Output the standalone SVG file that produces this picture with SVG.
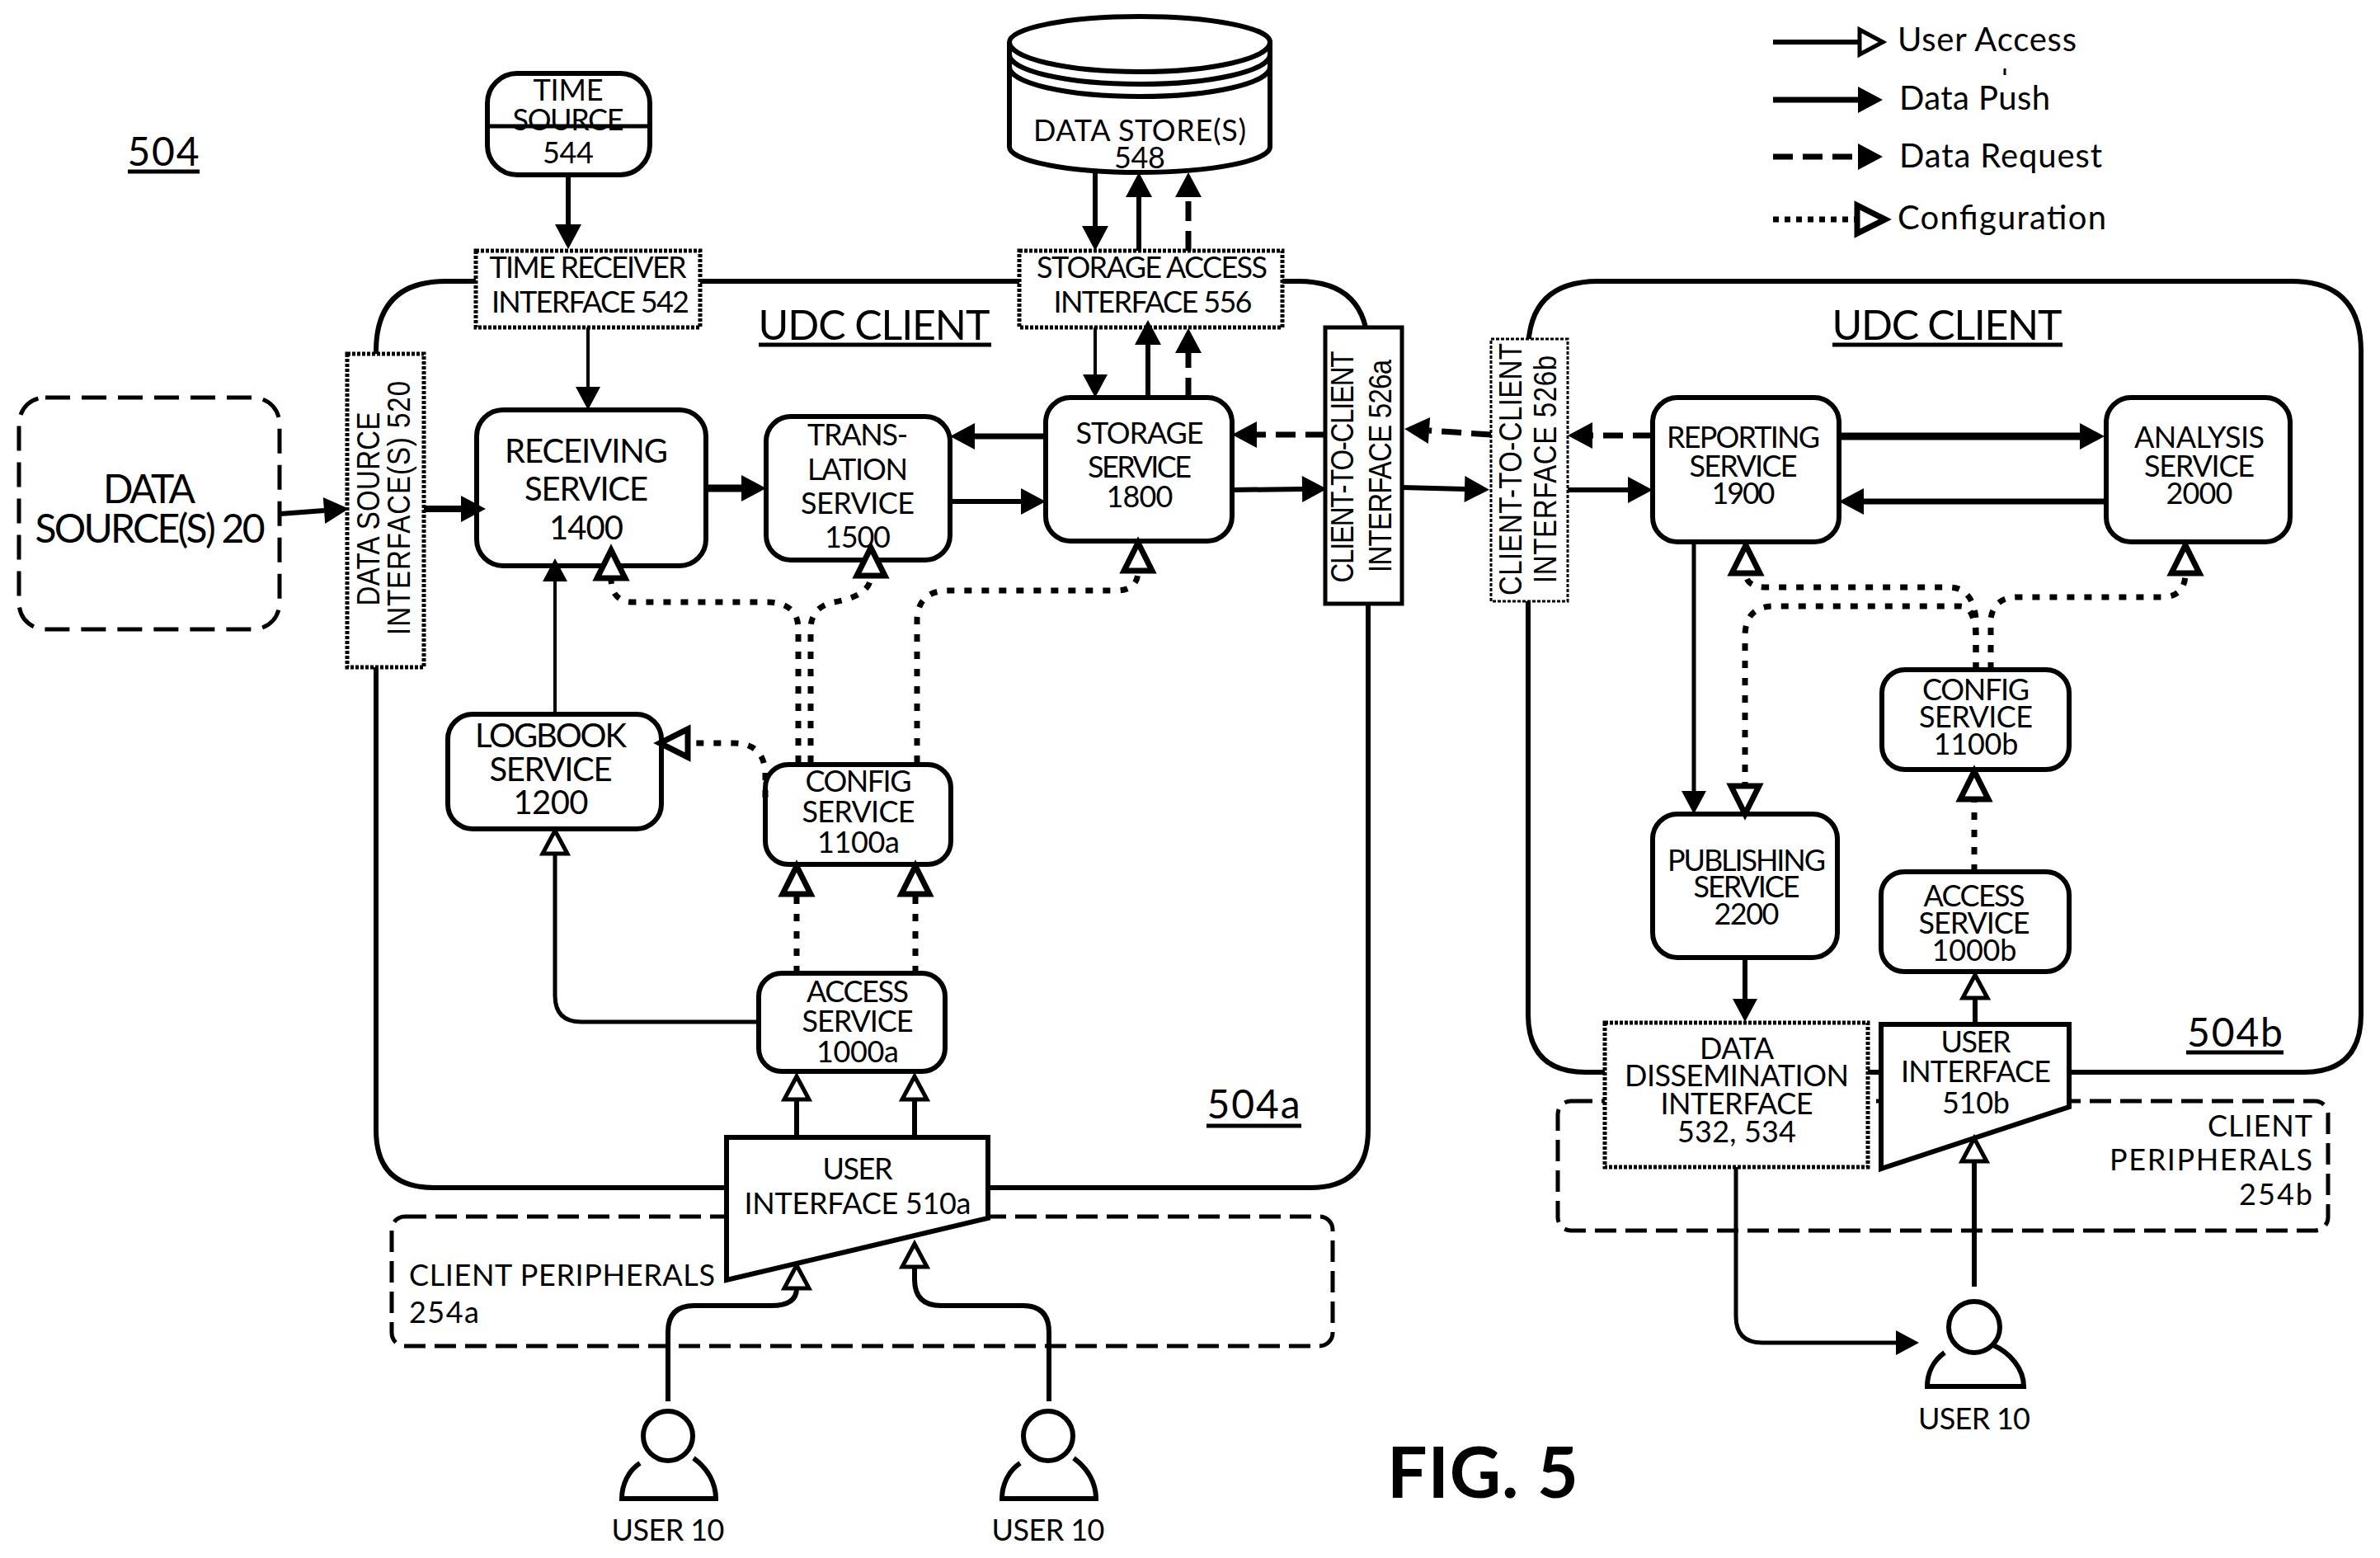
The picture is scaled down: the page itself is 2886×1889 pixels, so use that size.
<svg xmlns="http://www.w3.org/2000/svg" width="2886" height="1889" viewBox="0 0 2886 1889">
<style>
text{font-family:"Lato","Open Sans","Liberation Sans",sans-serif;fill:#000;text-anchor:middle}
.s{font-size:36px}.m{font-size:40px}.l{font-size:48px}.xl{font-size:50px}.st{text-anchor:start}.en{text-anchor:end}
.w{font-family:"Liberation Sans",sans-serif;font-size:33px}
.fig{font-size:86px;font-weight:700}
.box{fill:#fff;stroke:#000;stroke-width:6}
.cont{fill:#fff;stroke:#000;stroke-width:6}
.dash{fill:none;stroke:#000;stroke-width:5;stroke-dasharray:26 11}
.dot{fill:#fff;stroke:#000;stroke-width:5;stroke-dasharray:4 2}
.u{stroke:#000;stroke-width:5}
.c{fill:none;stroke:#000;stroke-width:6}
.thin{stroke-width:4}.thick{stroke-width:9}.t7{stroke-width:7}
.dreq{stroke-width:7;stroke-dasharray:24 12}
.cfg{stroke-width:7;stroke-dasharray:9 12}
.as{marker-end:url(#solid)}.asm{marker-end:url(#small)}.ah{marker-end:url(#hollow)}.ab{marker-end:url(#hollowB)}
</style>
<defs>
<marker id="solid" markerUnits="userSpaceOnUse" viewBox="-2 -20 40 40" markerWidth="40" markerHeight="40" refX="0" refY="0" orient="auto"><path d="M0 -16L30 0L0 16Z" fill="#000"/></marker>
<marker id="small" markerUnits="userSpaceOnUse" viewBox="-2 -20 40 40" markerWidth="40" markerHeight="40" refX="0" refY="0" orient="auto"><path d="M0 -15L28 0L0 15Z" fill="#000"/></marker>
<marker id="hollow" markerUnits="userSpaceOnUse" viewBox="-6 -24 50 48" markerWidth="50" markerHeight="48" refX="0" refY="0" orient="auto"><path d="M0 -15L28 0L0 15Z" fill="#fff" stroke="#000" stroke-width="5"/></marker>
<marker id="hollowB" markerUnits="userSpaceOnUse" viewBox="-6 -26 54 52" markerWidth="54" markerHeight="52" refX="0" refY="0" orient="auto"><path d="M0 -17L34 0L0 17Z" fill="#fff" stroke="#000" stroke-width="7"/></marker>
</defs>
<rect width="2886" height="1889" fill="#fff"/>

<g id="label-504"><text class="l" x="198" y="201" textLength="87">504</text><line class="u" x1="155" y1="208" x2="242" y2="208"/></g>

<g id="client-peripherals-a"><rect class="dash" x="475" y="1475" width="1141" height="157" rx="16"/>
<text class="s st" x="496" y="1559" textLength="371">CLIENT PERIPHERALS</text><text class="s st" x="496" y="1604" textLength="85">254a</text></g>
<g id="client-peripherals-b"><rect class="dash" x="1889" y="1335" width="934" height="157" rx="16"/>
<text class="s en" x="2804" y="1378" textLength="127">CLIENT</text><text class="s en" x="2804" y="1419" textLength="246">PERIPHERALS</text><text class="s en" x="2804" y="1461" textLength="89">254b</text></g>

<g id="udc-client-a"><path class="cont" d="M456 1370V426Q456 341 541 341H1574Q1659 341 1659 426V1370Q1659 1440 1589 1440H526Q456 1440 456 1370Z"/>
<text class="xl" x="1060" y="412" textLength="281">UDC CLIENT</text><line class="u" x1="920" y1="418" x2="1202" y2="418"/>
<text class="l" x="1520" y="1356" textLength="113">504a</text><line class="u" x1="1463" y1="1365" x2="1578" y2="1365"/></g>
<g id="udc-client-b"><path class="cont" d="M1853 1230V426Q1853 341 1938 341H2778Q2863 341 2863 426V1230Q2863 1300 2793 1300H1923Q1853 1300 1853 1230Z"/>
<text class="xl" x="2361" y="412" textLength="279">UDC CLIENT</text><line class="u" x1="2222" y1="418" x2="2501" y2="418"/>
<text class="l" x="2710" y="1269" textLength="116">504b</text><line class="u" x1="2651" y1="1276" x2="2769" y2="1276"/></g>

<g id="time-source"><rect class="box" x="591" y="89" width="197" height="123" rx="36"/><text class="s" x="689" y="122" textLength="85">TIME</text><text class="s" x="689" y="158" textLength="135">SOURCE</text><line class="u" x1="591" y1="153" x2="788" y2="153"/><text class="s" x="689" y="198" textLength="62">544</text></g>
<g id="data-store"><path class="box" d="M1224 51A158 31 0 0 1 1540 51V178A158 31 0 0 1 1224 178Z"/><path class="c" d="M1224 51A158 36 0 0 0 1540 51M1224 66A158 36 0 0 0 1540 66M1224 81A158 36 0 0 0 1540 81"/>
<text class="s" x="1382" y="171" textLength="258">DATA STORE(S)</text><text class="s" x="1382" y="204" textLength="62">548</text></g>
<g id="time-receiver-interface"><rect class="dot" x="577" y="304" width="272" height="93"/><text class="s" x="713" y="337" textLength="239">TIME RECEIVER</text><text class="s" x="716" y="379" textLength="240">INTERFACE 542</text></g>
<g id="storage-access-interface"><rect class="dot" x="1236" y="304" width="319" height="93"/><text class="s" x="1397" y="337" textLength="280">STORAGE ACCESS</text><text class="s" x="1398" y="379" textLength="241">INTERFACE 556</text></g>
<g id="data-sources"><rect class="dash" x="23" y="482" width="316" height="281" rx="32" style="stroke-dasharray:30 14"/><text class="l" x="181" y="610" textLength="112">DATA</text><text class="l" x="182" y="658" textLength="279">SOURCE(S) 20</text></g>
<g id="data-source-interface"><rect class="dot" x="421" y="429" width="93" height="380"/><text class="w" transform="translate(460 617) rotate(-90) scale(1 1.15)" textLength="235">DATA SOURCE</text><text class="w" transform="translate(497 616) rotate(-90) scale(1 1.15)" textLength="308">INTERFACE(S)  520</text></g>
<g id="receiving-service"><rect class="box" x="578" y="497" width="278" height="189" rx="32"/><text class="m" x="711" y="561" textLength="198">RECEIVING</text><text class="m" x="711" y="607" textLength="150">SERVICE</text><text class="m" x="711" y="654" textLength="90">1400</text></g>
<g id="translation-service"><rect class="box" x="929" y="505" width="223" height="174" rx="30"/><text class="s" x="1040" y="540" textLength="122">TRANS-</text><text class="s" x="1040" y="582" textLength="122">LATION</text><text class="s" x="1040" y="623" textLength="138">SERVICE</text><text class="s" x="1040" y="664" textLength="80">1500</text></g>
<g id="storage-service"><rect class="box" x="1268" y="482" width="226" height="174" rx="30"/><text class="s" x="1382" y="538" textLength="155">STORAGE</text><text class="s" x="1382" y="579" textLength="126">SERVICE</text><text class="s" x="1382" y="615" textLength="81">1800</text></g>
<g id="client-interface-a"><rect class="dot" x="1607" y="397" width="93" height="335" style="stroke-dasharray:none"/><text class="w" transform="translate(1641 566) rotate(-90) scale(1 1.15)" textLength="281">CLIENT-TO-CLIENT</text><text class="w" transform="translate(1687 565) rotate(-90) scale(1 1.15)" textLength="258">INTERFACE 526a</text></g>
<g id="client-interface-b"><rect class="dot" x="1808" y="411" width="93" height="318" style="stroke-width:3"/><text class="w" transform="translate(1845 569) rotate(-90) scale(1 1.15)" textLength="306">CLIENT-TO-CLIENT</text><text class="w" transform="translate(1887 569) rotate(-90) scale(1 1.15)" textLength="276">INTERFACE 526b</text></g>
<g id="reporting-service"><rect class="box" x="2004" y="482" width="226" height="175" rx="30"/><text class="s" x="2114" y="543" textLength="186">REPORTING</text><text class="s" x="2114" y="578" textLength="131">SERVICE</text><text class="s" x="2114" y="611" textLength="77">1900</text></g>
<g id="analysis-service"><rect class="box" x="2554" y="482" width="223" height="175" rx="30"/><text class="s" x="2667" y="543" textLength="158">ANALYSIS</text><text class="s" x="2667" y="578" textLength="134">SERVICE</text><text class="s" x="2667" y="611" textLength="81">2000</text></g>
<g id="logbook-service"><rect class="box" x="543" y="866" width="259" height="139" rx="30"/><text class="m" x="668" y="906" textLength="184">LOGBOOK</text><text class="m" x="668" y="947" textLength="149">SERVICE</text><text class="m" x="668" y="987" textLength="91">1200</text></g>
<g id="config-service-a"><rect class="box" x="928" y="927" width="225" height="121" rx="28"/><text class="s" x="1041" y="960" textLength="129">CONFIG</text><text class="s" x="1041" y="997" textLength="137">SERVICE</text><text class="s" x="1041" y="1034" textLength="100">1100a</text></g>
<g id="access-service-a"><rect class="box" x="920" y="1180" width="226" height="119" rx="28"/><text class="s" x="1040" y="1215" textLength="124">ACCESS</text><text class="s" x="1040" y="1251" textLength="135">SERVICE</text><text class="s" x="1040" y="1288" textLength="100">1000a</text></g>
<g id="user-interface-a"><path class="box" d="M881 1379H1198V1477L881 1552Z"/><text class="s" x="1040" y="1430" textLength="85">USER</text><text class="s" x="1040" y="1472" textLength="275">INTERFACE 510a</text></g>
<g id="config-service-b"><rect class="box" x="2282" y="812" width="227" height="121" rx="28"/><text class="s" x="2396" y="849" textLength="130">CONFIG</text><text class="s" x="2396" y="882" textLength="138">SERVICE</text><text class="s" x="2396" y="915" textLength="103">1100b</text></g>
<g id="access-service-b"><rect class="box" x="2281" y="1057" width="228" height="121" rx="28"/><text class="s" x="2394" y="1099" textLength="123">ACCESS</text><text class="s" x="2394" y="1132" textLength="135">SERVICE</text><text class="s" x="2394" y="1165" textLength="103">1000b</text></g>
<g id="publishing-service"><rect class="box" x="2004" y="987" width="224" height="174" rx="30"/><text class="s" x="2118" y="1056" textLength="192">PUBLISHING</text><text class="s" x="2118" y="1088" textLength="129">SERVICE</text><text class="s" x="2118" y="1121" textLength="79">2200</text></g>
<g id="data-dissemination-interface"><rect class="dot" x="1946" y="1240" width="319" height="175"/><text class="s" x="2106" y="1284" textLength="90">DATA</text><text class="s" x="2106" y="1317" textLength="272">DISSEMINATION</text><text class="s" x="2106" y="1351" textLength="185">INTERFACE</text><text class="s" x="2106" y="1385" textLength="144">532, 534</text></g>
<g id="user-interface-b"><path class="box" d="M2281 1242H2509V1342L2281 1417Z"/><text class="s" x="2396" y="1276" textLength="85">USER</text><text class="s" x="2396" y="1312" textLength="182">INTERFACE</text><text class="s" x="2396" y="1350" textLength="82">510b</text></g>

<g id="user-1"><circle class="c" cx="810" cy="1741" r="30"/><path class="c" d="M776 1774C762 1783 754 1800 754 1817H868C868 1798 858 1780 841 1768"/><text class="s" x="810" y="1868" textLength="137">USER 10</text></g>
<g id="user-2"><circle class="c" cx="1271" cy="1741" r="30"/><path class="c" d="M1237 1774C1223 1783 1215 1800 1215 1817H1329C1329 1798 1319 1780 1302 1768"/><text class="s" x="1271" y="1868" textLength="137">USER 10</text></g>
<g id="user-3"><circle class="c" cx="2394" cy="1609" r="31"/><path class="c" d="M2358 1640C2344 1650 2337 1665 2337 1681H2454C2454 1660 2438 1640 2415 1630"/><text class="s" x="2394" y="1733" textLength="136">USER 10</text></g>

<g id="connectors">
<path class="c as" d="M689 212V272"/>
<path class="c thin asm" d="M713 397V469"/>
<path class="c as" d="M340 623L393 619"/>
<path class="c as" style="stroke-width:8" d="M514 617H559"/>
<path class="c thick as" d="M856 592H899"/>
<path class="c t7 as" d="M1268 529H1182"/>
<path class="c as" d="M1152 608H1238"/>
<path class="c as" d="M1328 209V274"/>
<path class="c as" d="M1381 304V239"/>
<path class="c dreq as" d="M1441 304V239"/>
<path class="c thin asm" d="M1328 397V454"/>
<path class="c as" d="M1392 482V418"/>
<path class="c dreq as" d="M1441 482V428"/>
<path class="c dreq as" d="M1607 527H1524"/>
<path class="c as" d="M1494 594L1579 593"/>
<path class="c as" d="M1700 591L1776 593"/>
<path class="c dreq as" d="M1808 527L1733 522"/>
<path class="c dreq as" d="M2004 528H1931"/>
<path class="c as" d="M1901 594H1974"/>
<path class="c thick as" d="M2230 529H2522"/>
<path class="c t7 as" d="M2554 608H2260"/>
<path class="c asm" style="stroke-width:5" d="M2054 657V959"/>
<path class="c asm" d="M2116 1161V1211"/>
<path class="c asm" style="stroke-width:5" d="M2105 1415V1596Q2105 1628 2137 1628H2299"/>
<path class="c thin asm" d="M673 866V705"/>

<path class="c ah" style="stroke-width:5" d="M920 1239H705Q673 1239 673 1207V1035"/>
<path class="c ah" d="M966 1379V1333"/>
<path class="c ah" d="M1109 1379V1333"/>
<path class="c ah" d="M810 1699V1615Q810 1583 842 1583H935Q966 1583 966 1562"/>
<path class="c ah" d="M1272 1699V1615Q1272 1583 1240 1583H1141Q1109 1583 1109 1551V1536"/>
<path class="c ah" d="M2395 1242V1210"/>
<path class="c ah" d="M2394 1560V1408"/>

<path class="c cfg ab" d="M966 1180V1084"/>
<path class="c cfg ab" d="M1110 1180V1084"/>
<path class="c cfg ab" d="M2394 1057V969"/>
<path class="c cfg ab" d="M968 925V760Q966 730 929 730H768Q741 730 741 701"/>
<path class="c cfg ab" d="M983 925V760Q985 735 1012 730Q1056 722 1056 698"/>
<path class="c cfg ab" d="M1112 925V750Q1114 716 1150 716H1353Q1380 716 1380 692"/>
<path class="c cfg ab" d="M928 967V935Q925 901 890 901H834"/>
<path class="c cfg ab" d="M2396 812V750Q2392 712 2363 712H2142Q2117 712 2117 695"/>
<path class="c cfg ab" d="M2414 812V750Q2418 724 2446 724H2621Q2650 724 2650 695"/>
<path class="c cfg ab" d="M2396 812V770Q2394 735 2377 735H2151Q2117 735 2116 770V953"/>

<path class="c ah" d="M2150 51H2255"/>
<path class="c as" style="stroke-width:7" d="M2150 121H2253"/>
<path class="c dreq as" d="M2150 190H2253"/>
<path class="c cfg ab" style="stroke-dasharray:7 7" d="M2150 266H2252"/>
</g>

<g id="legend">
<text class="m st" x="2301" y="62" textLength="217">User Access</text>
<line class="u" x1="2431" y1="83" x2="2431" y2="91" style="stroke-width:3"/>
<text class="m st" x="2303" y="133" textLength="183">Data Push</text>
<text class="m st" x="2303" y="203" textLength="246">Data Request</text>
<text class="m st" x="2301" y="278" textLength="253">Configuration</text>
</g>
<text class="fig st" x="1682" y="1816" textLength="232">FIG. 5</text>
</svg>
